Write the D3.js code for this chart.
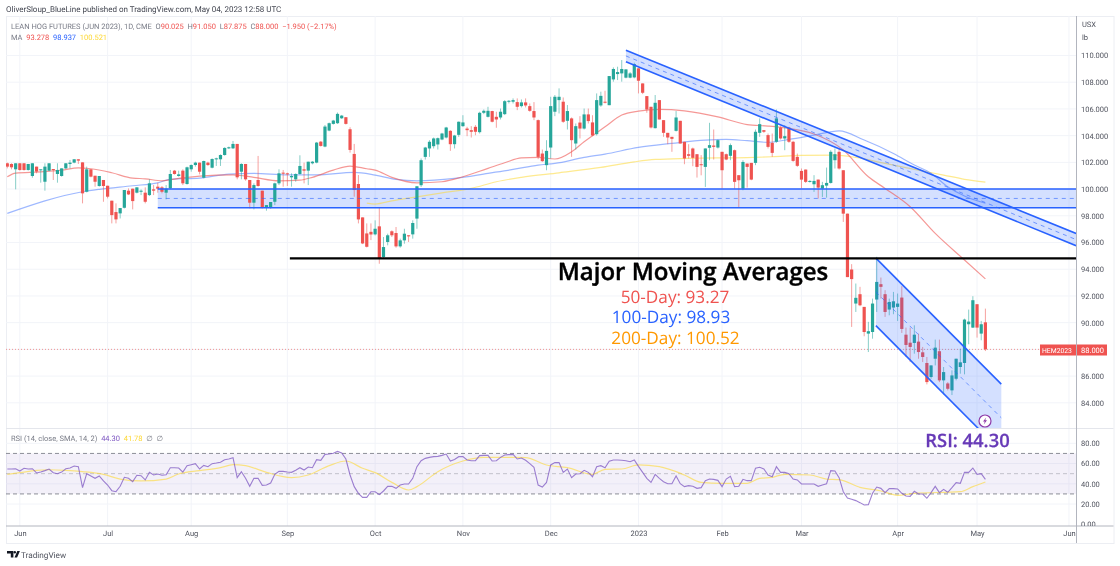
<!DOCTYPE html>
<html>
<head>
<meta charset="utf-8">
<script src="https://cdn.jsdelivr.net/npm/d3@7"></script>
<style>
  html, body { margin: 0; background: #fff; }
  svg { display: block; font-family: Roboto, sans-serif; filter: blur(0.3px); text-rendering: geometricPrecision; }
  svg text { white-space: pre; }
  .axis path, .axis line { display: none; }
  .axis text { fill: #50535e; font-size: 7.5px; font-family: Roboto, sans-serif; }
</style>
</head>
<body>
<svg id="chart" width="1120" height="566"></svg>
<script>
// candles, one row of ten per line
const opens = [
  101.93,101.88,101.48,101.93,101.93,101.43,100.98,101.68,101.43,100.55,
  101.38,101.50,101.13,100.98,101.55,101.88,101.98,102.23,102.00,99.80,
  101.48,101.00,100.23,100.68,100.25,99.13,98.28,98.18,98.60,99.88,
  100.03,99.73,99.80,99.73,99.55,99.98,100.18,100.13,99.73,100.05,
  101.38,100.98,101.38,100.38,101.48,101.80,101.98,100.85,101.98,101.60,
  102.25,102.23,102.55,103.05,103.05,103.38,101.30,101.88,100.68,98.98,
  100.68,99.88,98.63,98.63,99.05,100.43,101.23,101.18,100.88,100.73,
  101.13,101.48,101.38,101.93,101.98,103.55,103.18,104.38,104.88,104.93,
  105.30,105.38,104.48,102.63,100.38,97.88,96.68,96.80,96.61,97.21,
  94.91,96.04,96.84,96.71,95.71,96.16,96.54,96.61,97.79,100.29,
  102.41,103.04,103.21,103.34,103.71,103.86,104.36,103.36,104.06,104.71,
  104.53,104.41,104.66,104.26,105.71,105.41,105.84,105.41,105.36,105.61,
  106.54,106.54,106.51,106.21,106.49,106.21,105.84,105.16,102.66,101.79,
  103.11,105.79,106.66,106.54,105.11,105.29,103.41,104.98,104.53,105.59,
  104.99,104.11,106.26,106.54,106.28,108.21,108.61,108.66,108.34,108.34,
  108.36,109.04,107.91,106.96,106.16,104.56,106.66,105.16,104.21,103.91,
  104.36,105.11,103.54,102.61,103.04,102.61,101.86,101.66,103.09,103.26,
  103.11,102.79,102.61,102.49,102.91,101.04,100.03,101.91,101.96,101.96,
  104.21,104.41,104.04,103.46,103.54,104.61,103.79,104.61,103.54,102.41,
  101.36,101.46,100.54,100.36,100.71,100.04,100.26,100.46,102.16,102.79,
  101.41,98.16,93.98,91.43,92.13,91.18,89.18,89.30,91.73,92.88,
  92.13,90.98,91.13,91.18,91.88,89.10,88.50,88.48,88.58,87.78,
  86.98,85.93,87.30,87.86,85.68,85.45,84.93,85.80,86.68,86.98,
  89.88,89.63,91.38,89.18,90.025
];
const highs = [
  101.98,101.93,101.93,101.93,101.93,101.88,101.93,101.68,101.48,101.93,
  101.93,101.50,101.93,101.55,101.93,102.18,102.23,102.23,102.00,101.68,
  101.48,101.00,100.98,100.68,100.25,99.13,98.93,98.58,99.93,100.05,
  100.03,100.13,99.98,100.13,100.73,100.30,100.48,100.23,100.30,101.43,
  101.43,101.38,101.48,101.68,101.85,102.05,101.98,102.13,102.05,102.30,
  102.35,102.60,103.13,103.18,103.60,103.38,101.93,101.88,100.68,100.43,
  102.48,99.88,98.80,99.03,100.48,101.48,101.43,101.23,101.18,101.18,
  102.53,101.98,102.05,102.10,103.53,103.60,104.80,104.98,105.18,105.73,
  105.55,105.38,104.63,103.38,101.05,97.88,97.43,97.43,97.66,98.66,
  96.41,96.66,96.91,97.16,96.29,97.03,96.54,97.66,100.21,102.29,
  103.16,103.66,103.86,103.86,104.21,104.66,104.41,104.06,105.06,105.53,
  104.66,104.71,104.79,105.79,105.96,106.16,105.86,105.79,106.03,106.66,
  106.66,106.79,106.79,106.71,106.79,106.41,106.51,105.21,102.96,103.66,
  106.91,107.04,107.54,106.86,106.29,105.36,104.91,105.46,106.03,106.03,
  105.53,107.16,107.29,107.36,108.46,109.11,109.16,109.66,108.96,108.76,
  109.46,109.04,107.91,106.96,106.16,107.04,106.66,105.16,104.21,103.91,
  105.84,105.11,103.54,103.36,103.11,102.61,102.54,103.04,104.96,104.46,
  103.71,102.79,102.66,103.41,102.96,101.04,102.16,101.91,101.96,104.46,
  105.29,104.41,104.16,104.16,105.96,104.71,104.79,104.66,103.61,102.66,
  101.54,101.46,100.66,101.04,100.71,100.54,101.61,102.91,103.04,103.04,
  101.41,98.16,94.38,92.93,92.68,91.18,90.06,91.80,94.93,93.38,
  92.43,91.80,92.30,92.18,92.73,89.63,89.63,89.80,89.18,88.18,
  87.43,86.80,88.73,88.73,86.68,85.55,86.43,87.30,88.05,90.30,
  90.98,91.98,91.38,90.13,91.05
];
const lows = [
  101.55,101.48,99.98,101.38,101.38,101.38,100.85,101.18,100.48,99.88,
  101.33,100.68,100.48,100.93,101.50,101.55,101.93,101.88,98.93,99.75,
  100.88,100.18,100.18,99.05,99.30,97.43,97.43,97.80,98.55,99.55,
  98.48,99.68,99.55,98.93,99.48,99.55,99.73,99.68,99.23,100.00,
  101.08,100.93,100.30,100.33,101.30,101.68,101.10,100.80,101.73,101.55,
  101.73,101.73,102.50,103.00,103.00,100.73,100.73,100.63,98.55,98.48,
  100.18,98.55,98.38,98.53,98.80,100.30,100.18,100.23,100.18,100.55,
  101.08,100.43,100.30,101.85,101.93,103.18,103.13,104.33,104.83,104.88,
  105.25,104.83,102.73,99.43,97.43,95.88,95.63,96.18,96.53,94.41,
  94.78,95.79,96.41,95.61,95.61,95.91,96.04,96.29,97.03,100.16,
  102.21,102.41,103.04,102.96,103.66,103.79,102.86,103.04,103.91,104.66,
  103.96,103.86,104.03,104.16,105.61,105.36,104.99,104.59,105.21,105.54,
  106.41,106.41,105.91,106.11,106.11,105.79,105.16,102.24,102.04,101.41,
  102.29,105.46,105.66,104.96,104.46,102.41,102.96,103.79,104.46,104.91,
  103.96,104.01,106.16,106.41,106.28,108.04,108.16,108.04,108.29,108.29,
  108.29,107.16,107.11,105.71,104.54,104.54,105.21,103.91,103.36,102.79,
  104.31,103.41,101.86,102.29,101.71,100.86,101.03,100.16,102.16,102.21,
  103.04,100.03,102.16,102.16,100.03,98.66,99.91,100.11,100.66,101.79,
  103.91,104.21,103.04,102.41,103.46,103.71,102.91,103.46,102.04,101.66,
  100.04,100.46,100.49,99.79,99.29,99.41,99.36,100.41,101.54,101.46,
  97.54,93.41,89.68,90.80,91.23,88.98,87.80,88.80,90.80,91.80,
  90.43,90.55,90.63,90.13,89.23,87.43,87.05,87.68,87.30,87.05,
  85.38,85.80,86.80,85.55,84.63,84.93,84.58,85.68,86.18,86.13,
  88.38,89.60,88.88,88.68,87.875
];
const closes = [
  101.68,101.63,101.93,101.43,101.43,101.88,101.93,101.31,101.48,101.68,
  101.93,101.43,101.43,101.55,101.93,101.98,102.23,102.13,99.68,101.48,
  100.93,100.55,100.98,100.23,99.43,98.05,97.73,98.58,99.93,99.60,
  99.10,100.13,99.88,99.05,100.43,99.88,100.03,99.80,100.03,101.13,
  101.13,101.10,100.43,101.63,101.80,101.98,101.30,102.10,101.80,102.25,
  102.30,102.55,103.08,103.13,103.38,100.88,101.88,100.73,98.98,100.30,
  100.23,98.63,98.80,99.03,100.43,101.18,101.15,101.10,100.98,101.13,
  101.73,101.38,102.05,102.05,103.48,103.23,104.68,104.93,105.13,105.63,
  105.50,104.88,102.93,99.93,97.73,95.93,95.68,96.60,97.03,94.79,
  95.66,96.54,96.54,95.71,96.16,96.66,96.46,97.46,100.21,102.16,
  103.11,103.54,103.79,103.81,104.16,104.61,103.36,104.01,105.04,104.99,
  104.41,104.29,104.29,105.71,105.86,105.86,105.04,105.21,105.79,106.58,
  106.61,106.66,106.16,106.49,106.26,105.86,105.36,102.41,102.09,102.86,
  106.21,106.91,106.91,105.04,105.84,103.66,104.71,104.53,105.59,105.09,
  104.01,106.66,106.98,106.49,108.46,108.99,108.76,108.99,108.96,108.66,
  109.36,108.11,107.21,105.96,104.61,106.46,105.21,104.21,103.86,103.76,
  105.36,103.41,102.29,102.49,102.34,101.66,101.79,103.04,103.29,103.16,
  103.66,101.41,102.21,103.29,100.54,100.66,102.03,101.66,100.71,104.29,
  104.86,104.29,103.16,102.71,105.29,103.79,103.96,103.54,102.11,101.74,
  100.71,100.54,100.61,100.61,100.11,100.29,100.46,102.79,102.61,101.54,
  98.16,93.41,93.26,91.86,91.30,89.30,89.36,91.43,93.05,92.68,
  90.80,91.55,91.60,91.43,89.53,88.33,88.18,89.10,87.80,87.43,
  85.55,86.80,88.13,85.68,86.30,85.05,86.05,87.30,87.03,90.23,
  90.08,91.68,89.63,89.88,88.00
];

// moving averages, vertices
const ma50Bars = [0,2,8,13,17,20,25,30,33,37,41,46,54,59,65,70,73,78,82,86,88,92,98,104,109,115,119,123,127,131,135,138,143,147,151,156,162,170,177,182,187,193,200,206,210,216,222,229,234];
const ma50Vals = [100.92,101.2,101.29,101.42,101.59,101.52,101.22,100.82,100.77,100.62,100.8,100.97,101.07,100.88,100.62,100.67,100.88,101.42,101.72,101.52,101.42,100.88,100.47,100.55,100.92,101.55,101.97,102.34,102.37,102.25,102.79,103.54,104.66,105.54,105.84,105.97,105.86,105.41,104.83,104.72,104.54,104.12,102.92,100.92,100.05,98.68,96.68,94.69,93.278];
const ma100Bars = [0,18,22,30,36,39,46,53,59,67,74,83,88,93,98,107,115,121,127,131,138,143,151,159,167,172,177,182,187,193,199,205,212,217,221,225,229,234];
const ma100Vals = [98.18,99.8,99.98,100.25,100.47,100.73,100.82,101.12,101.18,101.07,101.07,101.25,101.05,100.73,100.62,100.8,101.18,101.47,101.8,101.92,102.37,102.62,103.12,103.42,103.67,103.72,103.62,103.5,103.72,104.04,104.36,103.67,102.67,101.8,101.18,100.17,99.48,98.937];
const ma200Bars = [86,88,92,98,104,111,117,123,132,142,150,155,163,177,183,190,198,203,210,217,224,229,234];
const ma200Vals = [98.95,98.88,99.12,99.42,99.72,100.05,100.55,100.88,101.22,101.62,102.04,102.22,102.3,102.36,102.42,102.52,102.54,102.37,101.92,101.47,101.05,100.73,100.521];

// rsi per bar and its smoothing
const rsiVals = [
  54.6,54.6,54.9,52.6,55.3,54.6,54.9,50.7,51.6,53,
  54.6,51,50,51.6,54.9,55.6,57.6,56.9,36.2,50,
  47.7,45.4,47.7,42.8,38.8,33.2,32.2,37.5,46.4,45.4,
  42.1,48.4,48,43.8,51.3,48.7,49.7,48.4,49,55.9,
  55.9,55.6,51.6,57.9,58.9,59.9,54.6,58.2,56.9,59.9,
  60.5,61.2,63.8,64.5,65.8,46.1,52,45.4,37.5,45.4,
  45.4,38.5,38.8,40.8,49.3,52.3,52.3,51.6,51.3,53.3,
  55.9,53.6,56.6,55.9,63.8,63.2,69.1,69.4,70.1,72,
  70.4,64.5,48.7,37.2,30.6,26.6,26.6,32.2,32.2,29.3,
  32.9,37.5,37.5,35.5,38.8,39.8,39.8,45.4,56.9,62.8,
  65.1,66.1,66.8,67.1,68.1,69.4,62.5,64.1,66.8,66.8,
  63.5,62.8,62.8,67.8,68.1,68.1,62.5,62.8,66.1,68.4,
  68.8,69.1,64.5,65.5,63.2,59.9,56.3,38.8,36.8,41.4,
  58.6,60.9,60.9,51.3,54.6,46.1,49.7,50,53.3,51.3,
  47,56.9,57.9,55.9,62.2,63.5,63.5,63.2,62.8,61.8,
  63.5,57.2,51.3,45.4,41.4,49.3,45.4,42.1,40.1,40.1,
  47.7,40.1,37.2,38.2,37.5,35.5,36.2,43.1,44.7,44.4,
  43.4,37.2,44.7,47.4,37.2,37.5,44.4,43.1,43.1,55.3,
  56.3,54.6,48.7,47,56.9,51.3,51.3,50,44.7,43.8,
  39.8,39.8,39.8,39.8,37.5,38.8,40.1,53,52.6,46.1,
  32.2,26,24.7,23.4,21.4,19.1,19.4,30.6,36.8,35.5,
  31.3,35.2,35.2,34.9,30.6,28,27.6,32.6,29.9,29.9,
  25.7,31.3,37.5,31.3,34.5,31.6,36.2,41.1,40.5,51.3,
  51.3,55.6,49.3,50,44.3
];
const rsiMaBars = [0,3,7,10,14,18,23,27,32,38,41,46,51,54,57,62,68,72,77,81,85,88,92,96,98,103,109,114,121,124,129,134,140,143,147,151,156,162,166,171,177,180,183,186,192,196,199,204,209,213,217,228,231,234];
const rsiMaVals = [49.3,51,53.3,53.9,53.3,52,49.3,44.7,42.8,44.7,49.7,53,55.9,58.9,57.9,51.3,46.1,48.7,57.9,62.5,55.3,51,41.4,33.9,37.2,52,62.5,66.1,66.1,65.8,58.6,55.9,49.3,54.3,54.6,58.6,56.9,48.7,41.4,40.5,40.5,45.4,46.4,49.3,48.7,44.7,44.1,36.5,32.9,28.6,30.6,32.2,37.2,41.78];

// axes
const priceTicks = [84,86,88,90,92,94,96,98,100,102,104,106,108,110];
const rsiTicks = [0,20,40,60,80];
const monthBars = [3,24,44,67,88,109,130,151,171,190,213,232,254];
const monthLabels = ["Jun","Jul","Aug","Sep","Oct","Nov","Dec","2023","Feb","Mar","Apr","May","Jun"];

// trendline drawings: [bar, price] anchors
const supportBand = { from: 36, top: 100, mid: 99.3, bottom: 98.6 };
const fallingUpper = [[148,110.4],[255.7,96.68]];
const fallingLower = [[148,109.53],[255.7,95.76]];
const channelUpper = [[207.8,94.83],[237.8,85.4]];
const channelLower = [[207.8,89.78],[237.8,80.35]];
const majorLevel = { from: 67.6, price: 94.81 };
const lastClose = 88.0;

const red = "#ef5350", green = "#26a69a", blue = "#2962ff", yellow = "#fdd835", purple = "#7e57c2";
const plotLeft = 6, plotRight = 1076, plotTop = 16, paneBottom = 428.5, axisBottom = 526, frameRight = 1113.5, frameBottom = 543;

const x = d3.scaleLinear().domain([0, 234]).range([7.3, 985.4]);
const y = d3.scaleLinear().domain([84, 110]).range([402.8, 55.5]);
const yRsi = d3.scaleLinear().domain([0, 80]).range([524.3, 443.3]);

const svg = d3.select("#chart");
svg.append("defs").append("clipPath").attr("id", "pane")
  .append("rect").attr("x", plotLeft).attr("y", plotTop)
  .attr("width", plotRight - plotLeft).attr("height", paneBottom - plotTop);

// frame
svg.append("rect").attr("x", plotLeft + .5).attr("y", plotTop + .5)
  .attr("width", frameRight - plotLeft).attr("height", frameBottom - plotTop)
  .attr("fill", "none").attr("stroke", "#eceef3");

// grid
const grid = svg.append("g").attr("stroke", "#f2f4f9").attr("stroke-width", 1);
grid.selectAll(".v").data(monthBars).join("line")
  .attr("x1", d => x(d)).attr("x2", d => x(d)).attr("y1", plotTop).attr("y2", axisBottom);
grid.selectAll(".h").data(priceTicks).join("line")
  .attr("x1", plotLeft).attr("x2", plotRight).attr("y1", d => y(d)).attr("y2", d => y(d));
grid.selectAll(".r").data(rsiTicks.slice(1)).join("line")
  .attr("x1", plotLeft).attr("x2", plotRight).attr("y1", d => yRsi(d)).attr("y2", d => yRsi(d));

const pane = svg.append("g").attr("clip-path", "url(#pane)");

// support band
const bandRight = plotRight;
pane.append("rect").attr("x", x(supportBand.from)).attr("y", y(supportBand.top))
  .attr("width", bandRight - x(supportBand.from))
  .attr("height", y(supportBand.bottom) - y(supportBand.top))
  .attr("fill", blue).attr("fill-opacity", .2);

function channel(upper, lower) {
  const pts = [upper[0], upper[1], lower[1], lower[0]].map(d => [x(d[0]), y(d[1])]);
  pane.append("path").attr("d", d3.line()(pts)).attr("fill", blue).attr("fill-opacity", .2);
  const mid = [0, 1].map(i => [(upper[i][0] + lower[i][0]) / 2, (upper[i][1] + lower[i][1]) / 2]);
  const line = d3.line().x(d => x(d[0])).y(d => y(d[1]));
  pane.append("path").attr("d", line(upper)).attr("stroke", blue).attr("stroke-width", 1.6).attr("fill", "none");
  pane.append("path").attr("d", line(lower)).attr("stroke", blue).attr("stroke-width", 1.6).attr("fill", "none");
  pane.append("path").attr("d", line(mid)).attr("stroke", blue).attr("stroke-opacity", .6)
    .attr("stroke-dasharray", "4 4").attr("fill", "none");
}

// moving averages sit under the candles
const maLine = d3.line().x(d => x(d[0])).y(d => y(d[1])).curve(d3.curveMonotoneX);
[[ma200Bars, ma200Vals, yellow, .55], [ma100Bars, ma100Vals, blue, .45], [ma50Bars, ma50Vals, red, .6]].forEach(([b, v, c, o]) => {
  pane.append("path").attr("d", maLine(d3.zip(b, v)))
    .attr("fill", "none").attr("stroke", c).attr("stroke-opacity", o).attr("stroke-width", 1.2);
});

// last price dotted
pane.append("line").attr("x1", plotLeft).attr("x2", plotRight).attr("y1", y(lastClose)).attr("y2", y(lastClose))
  .attr("stroke", red).attr("stroke-opacity", .6).attr("stroke-dasharray", "1 2");

// candles
const bars = pane.append("g").selectAll("g").data(d3.range(opens.length)).join("g");
const candleColor = i => closes[i] >= opens[i] ? green : red;
bars.append("line")
  .attr("x1", i => x(i)).attr("x2", i => x(i))
  .attr("y1", i => y(highs[i])).attr("y2", i => y(lows[i]))
  .attr("stroke", candleColor).attr("stroke-opacity", .55);
bars.append("rect")
  .attr("x", i => x(i) - 1.6).attr("width", 3.2)
  .attr("y", i => y(Math.max(opens[i], closes[i])))
  .attr("height", i => Math.max(1, Math.abs(y(opens[i]) - y(closes[i]))))
  .attr("fill", candleColor);

// drawings over candles
[supportBand.top, supportBand.bottom].forEach((p, i) => {
  pane.append("line").attr("x1", x(supportBand.from)).attr("x2", bandRight).attr("y1", y(p)).attr("y2", y(p))
    .attr("stroke", blue).attr("stroke-width", i ? 1.5 : 2).attr("stroke-opacity", i ? 1 : .75);
});
pane.append("line").attr("x1", x(supportBand.from)).attr("x2", bandRight).attr("y1", y(supportBand.mid)).attr("y2", y(supportBand.mid))
  .attr("stroke", blue).attr("stroke-opacity", .6).attr("stroke-dasharray", "4 4");
channel(fallingUpper, fallingLower);
channel(channelUpper, channelLower);
pane.append("line").attr("x1", x(majorLevel.from)).attr("x2", plotRight).attr("y1", y(majorLevel.price)).attr("y2", y(majorLevel.price))
  .attr("stroke", "#000").attr("stroke-width", 2.4);

// annotations
const notes = [
  ["Major Moving Averages", 693, 280, 24, "#000", 600, .4],
  ["50-Day: 93.27", 675, 303, 17.2, red, 400, 0],
  ["100-Day: 98.93", 671, 322.5, 17.2, blue, 400, 0],
  ["200-Day: 100.52", 675.5, 344, 17.2, "#ff9800", 400, 0]
];
svg.selectAll(".note").data(notes).join("text")
  .attr("x", d => d[1]).attr("y", d => d[2]).attr("text-anchor", "middle")
  .attr("font-family", "'Open Sans', sans-serif")
  .attr("font-size", d => d[3]).attr("fill", d => d[4]).attr("font-weight", d => d[5])
  .attr("stroke", d => d[4]).attr("stroke-width", d => d[6])
  .text(d => d[0]);

// lightning marker
const bolt = svg.append("g").attr("transform", "translate(985,421)");
bolt.append("circle").attr("r", 6).attr("fill", "#fff").attr("stroke", "#8e3aa8").attr("stroke-width", 1.2);
bolt.append("path").attr("d", "M1.2,-3.6 L-2,0.6 L-0.2,0.6 L-1.2,3.6 L2,-0.8 L0.2,-0.8 Z").attr("fill", "#8e3aa8");

// rsi pane
svg.append("line").attr("x1", plotLeft).attr("x2", frameRight).attr("y1", paneBottom).attr("y2", paneBottom).attr("stroke", "#e4e6ec");
svg.append("rect").attr("x", plotLeft).attr("width", plotRight - plotLeft)
  .attr("y", yRsi(70)).attr("height", yRsi(30) - yRsi(70)).attr("fill", purple).attr("fill-opacity", .09);
svg.selectAll(".rl").data([70, 50, 30]).join("line")
  .attr("x1", plotLeft).attr("x2", plotRight).attr("y1", d => yRsi(d)).attr("y2", d => yRsi(d))
  .attr("stroke", "#787b86").attr("stroke-opacity", d => d === 50 ? .4 : .85).attr("stroke-dasharray", "4 3");
svg.append("path").attr("d", d3.line().x(d => x(d[0])).y(d => yRsi(d[1])).curve(d3.curveMonotoneX)(d3.zip(rsiMaBars, rsiMaVals)))
  .attr("fill", "none").attr("stroke", yellow).attr("stroke-opacity", .6).attr("stroke-width", 1.2);
svg.append("path").attr("d", d3.line().x((d, i) => x(i)).y(d => yRsi(d))(rsiVals))
  .attr("fill", "none").attr("stroke", purple).attr("stroke-opacity", .75).attr("stroke-width", 1.1);

svg.append("text").attr("x", 967.5).attr("y", 446.5).attr("text-anchor", "middle")
  .attr("font-family", "'Open Sans', sans-serif").attr("font-size", 18.4).attr("font-weight", 600)
  .attr("stroke", "#673ab7").attr("stroke-width", .25)
  .attr("fill", "#673ab7").text("RSI: 44.30");

// axes
svg.append("line").attr("x1", plotRight + .5).attr("x2", plotRight + .5).attr("y1", plotTop).attr("y2", frameBottom).attr("stroke", "#b2b5be");
svg.append("line").attr("x1", plotLeft).attr("x2", frameRight).attr("y1", axisBottom).attr("y2", axisBottom).attr("stroke", "#b2b5be");

svg.append("g").attr("class", "axis").attr("transform", `translate(${plotRight},0)`)
  .call(d3.axisRight(y).tickValues(priceTicks).tickSize(0).tickPadding(5).tickFormat(d3.format(".3f")));
svg.select("defs").append("clipPath").attr("id", "axisClipRsi")
  .append("rect").attr("x", 0).attr("y", 430).attr("width", 40).attr("height", axisBottom - 430);
svg.append("g").attr("class", "axis").attr("transform", `translate(${plotRight},0)`).attr("clip-path", "url(#axisClipRsi)")
  .call(d3.axisRight(yRsi).tickValues(rsiTicks).tickSize(0).tickPadding(5).tickFormat(d3.format(".2f")));
svg.append("g").attr("class", "axis").attr("transform", `translate(0,${axisBottom})`)
  .call(d3.axisBottom(x).tickValues(monthBars).tickSize(0).tickPadding(5).tickFormat((d, i) => monthLabels[i]));

const small = (txt, px, py, col, size) => svg.append("text").attr("x", px).attr("y", py)
  .attr("font-size", size || 7.5).attr("fill", col).text(txt);
small("USX", 1082, 27, "#50535e");
small("lb", 1082, 40, "#50535e");

// last price tags
svg.append("rect").attr("x", 1040).attr("y", 344.5).attr("width", 36).attr("height", 11).attr("fill", red);
svg.append("rect").attr("x", 1077).attr("y", 344.5).attr("width", 30).attr("height", 11).attr("fill", red);
small("HEM2023", 1042, 353, "#fff", 6.8);
small("88.000", 1081, 353, "#fff");

// header lines
small("OliverSloup_BlueLine published on TradingView.com, May 04, 2023 12:58 UTC", 6, 12, "#434651", 8);
const header = svg.append("text").attr("x", 11).attr("y", 29).attr("font-size", 7.5).attr("fill", "#787b86");
[["LEAN HOG FUTURES (JUN 2023), 1D, CME  O", "#787b86"], ["90.025", red], ["  H", "#787b86"], ["91.050", red], ["  L", "#787b86"], ["87.875", red], ["  C", "#787b86"], ["88.000", red], ["  −1.950 (−2.17%)", red]]
  .forEach(([t, c]) => header.append("tspan").attr("fill", c).text(t));
const maHead = svg.append("text").attr("x", 11).attr("y", 40).attr("font-size", 7.5).attr("fill", "#787b86");
[["MA", "#787b86"], ["  93.278", red], ["  98.937", blue], ["  100.521", yellow]]
  .forEach(([t, c]) => maHead.append("tspan").attr("fill", c).text(t));
const rsiHead = svg.append("text").attr("x", 11).attr("y", 441).attr("font-size", 7.5).attr("fill", "#787b86");
[["RSI (14, close, SMA, 14, 2)", "#787b86"], ["  44.30", purple], ["  41.78", yellow], ["  ∅  ∅", "#787b86"]]
  .forEach(([t, c]) => rsiHead.append("tspan").attr("fill", c).text(t));

// brand
svg.append("path").attr("d", "M7,551 h6.4 v6.4 h-2.6 v-4 h-3.8 Z M14.5,557.4 l2.8,-6.4 h2.6 l-2.8,6.4 Z").attr("fill", "#131722");
svg.append("circle").attr("cx", 14.8).attr("cy", 552.2).attr("r", 1.2).attr("fill", "#131722");
small("TradingView", 21, 557.5, "#50535e", 8.2);
</script>
</body>
</html>
